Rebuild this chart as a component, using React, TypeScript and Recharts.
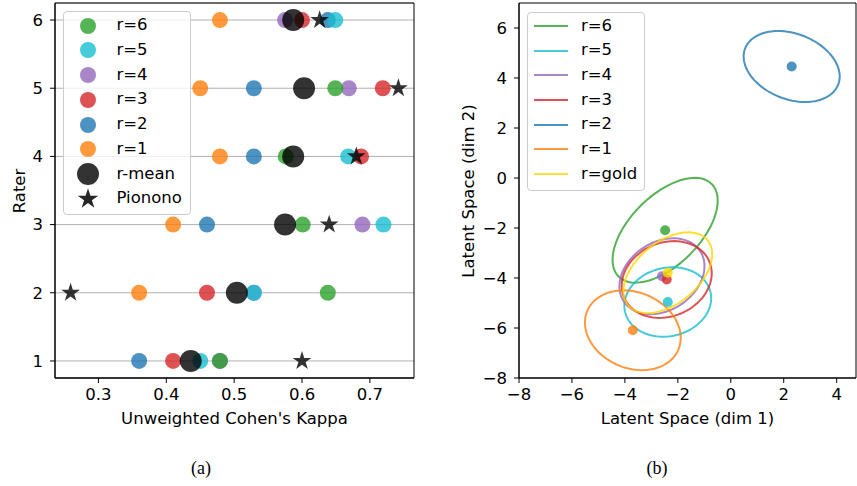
import React from 'react';
import { ScatterChart, Scatter, XAxis, YAxis, CartesianGrid, ReferenceArea, Symbols } from 'recharts';

// ---- panel (a): kappa of each rater row against every other rater ----
const raters = [1, 2, 3, 4, 5, 6];
const kappaR1 = [null, 0.36, 0.41, 0.479, 0.45, 0.479];
const kappaR2 = [0.36, null, 0.46, 0.529, 0.529, 0.638];
const kappaR3 = [0.41, 0.46, null, 0.687, 0.719, 0.6];
const kappaR4 = [0.479, 0.529, 0.689, null, 0.669, 0.575];
const kappaR5 = [0.45, 0.529, 0.72, 0.668, null, 0.649];
const kappaR6 = [0.479, 0.638, 0.601, 0.576, 0.649, null];
const kappaMean = [0.436, 0.504, 0.575, 0.587, 0.603, 0.587];
const kappaPionono = [0.6, 0.259, 0.64, 0.68, 0.742, 0.626];
const kappaTicks = [0.3, 0.4, 0.5, 0.6, 0.7];
const raterTicks = [1, 2, 3, 4, 5, 6];

// ---- panel (b): latent means and covariance ellipses ----
const latentLabels = ['r=6', 'r=5', 'r=4', 'r=3', 'r=2', 'r=1', 'r=gold'];
const latentMeanX = [-2.48, -2.38, -2.6, -2.42, 2.3, -3.7, -2.38];
const latentMeanY = [-2.09, -4.96, -3.93, -4.06, 4.46, -6.09, -3.79];
const ellipseMajor = [2.555, 1.663, 1.763, 1.767, 1.903, 1.89, 1.99];
const ellipseMinor = [1.345, 1.362, 1.334, 1.458, 1.299, 1.5, 1.21];
const ellipseAngle = [47.75, 16.7, 39, 28.8, -24.3, -28.4, 42.7];
const latentTicksX = [-8, -6, -4, -2, 0, 2, 4];
const latentTicksY = [-8, -6, -4, -2, 0, 2, 4, 6];

const C = {
  orange: '#ff7f0e',
  blue: '#1f77b4',
  red: '#d62728',
  purple: '#9467bd',
  cyan: '#17becf',
  green: '#2ca02c',
  gold: '#ffd700',
};

const FONT = 'DejaVu Sans';
const FS = 16.5;
const tickStyle = { fill: '#000', fontSize: FS, fontFamily: FONT };

// drawing order r=1..6 (legend lists them reversed)
const kappaSeries = [
  { name: 'r=1', color: C.orange, values: kappaR1 },
  { name: 'r=2', color: C.blue, values: kappaR2 },
  { name: 'r=3', color: C.red, values: kappaR3 },
  { name: 'r=4', color: C.purple, values: kappaR4 },
  { name: 'r=5', color: C.cyan, values: kappaR5 },
  { name: 'r=6', color: C.green, values: kappaR6 },
];
const latentColors = [C.green, C.cyan, C.purple, C.red, C.blue, C.orange, C.gold];

const toPoints = (vals: (number | null)[]) =>
  raters.map((r, i) => ({ x: vals[i], y: r })).filter((p) => p.x !== null);

// outline of an ellipse given centre, semi axes and rotation
function ellipseOutline(i: number) {
  const th = (ellipseAngle[i] * Math.PI) / 180;
  const a = ellipseMajor[i];
  const b = ellipseMinor[i];
  const steps = 90;
  return Array.from({ length: steps + 1 }, (_, k) => {
    const t = (2 * Math.PI * k) / steps;
    return {
      x: latentMeanX[i] + a * Math.cos(th) * Math.cos(t) - b * Math.sin(th) * Math.sin(t),
      y: latentMeanY[i] + a * Math.sin(th) * Math.cos(t) + b * Math.cos(th) * Math.sin(t),
    };
  });
}

const minus = (v: number) => String(v).replace('-', '\u2212');

const dot = (color: string, r: number) => (p: any) =>
  <circle cx={p.cx} cy={p.cy} r={r} fill={color} fillOpacity={0.8} />;
const star = (p: any) => <Symbols type="star" size={110} cx={p.cx} cy={p.cy} fill="#000" fillOpacity={0.8} />;
const noShape = () => <g />;

const abs = (left: number, top: number): React.CSSProperties => ({ position: 'absolute', left, top });

const centered = (x: number, y: number, rotate = 0, size = FS): React.CSSProperties => ({
  position: 'absolute',
  left: x,
  top: y,
  transform: `translate(-50%, -50%) rotate(${rotate}deg)`,
  whiteSpace: 'nowrap',
  fontFamily: FONT,
  fontSize: size,
  color: '#000',
});

const legendBox: React.CSSProperties = {
  position: 'absolute',
  border: '1px solid #cccccc',
  borderRadius: 4,
  background: 'rgba(255,255,255,0.8)',
  fontFamily: FONT,
  fontSize: FS,
  color: '#000',
  boxSizing: 'border-box',
  paddingTop: 1,
};

const LeftLegend = () => {
  const entries = [
    ...[...kappaSeries].reverse().map((s) => ({ name: s.name, kind: 'dot', color: s.color })),
    { name: 'r-mean', kind: 'mean', color: '#000' },
    { name: 'Pionono', kind: 'star', color: '#000' },
  ];
  return (
    <div style={{ ...legendBox, left: 63, top: 11, width: 128, height: 204 }}>
      {entries.map((e) => (
        <div key={e.name} style={{ position: 'relative', height: 24.75 }}>
          <svg width={26} height={26} style={{ position: 'absolute', left: 11, top: -0.5 }}>
            {e.kind === 'dot' && <circle cx={13} cy={13} r={8} fill={e.color} fillOpacity={0.8} />}
            {e.kind === 'mean' && <circle cx={13} cy={13} r={11} fill="#000" fillOpacity={0.8} />}
            {e.kind === 'star' && <Symbols type="star" size={130} cx={13} cy={13} fill="#000" fillOpacity={0.85} />}
          </svg>
          <span style={{ position: 'absolute', left: 52.5, top: 2, lineHeight: '20px' }}>{e.name}</span>
        </div>
      ))}
    </div>
  );
};

const RightLegend = () => (
  <div style={{ ...legendBox, left: 527, top: 11.5, width: 118, height: 179 }}>
    {latentLabels.map((name, i) => (
      <div key={name} style={{ position: 'relative', height: 24.7 }}>
        <div
          style={{
            position: 'absolute',
            left: 6,
            top: 11.5,
            width: 34,
            height: 2,
            background: latentColors[i],
            opacity: 0.8,
          }}
        />
        <span style={{ position: 'absolute', left: 53, top: 2, lineHeight: '20px' }}>{name}</span>
      </div>
    ))}
  </div>
);

export default function App() {
  return (
    <div style={{ position: 'absolute', left: 0, top: 0, width: 857, height: 486, background: '#fff', overflow: 'hidden' }}>
      {/* (a) */}
      <div style={abs(0, 0)}>
        <ScatterChart width={430} height={440} margin={{ top: 3, right: 16, bottom: 0, left: 0 }}>
          <CartesianGrid horizontal vertical={false} stroke="#b0b0b0" strokeWidth={1} />
          <XAxis
            type="number"
            dataKey="x"
            domain={[0.236, 0.765]}
            allowDataOverflow
            ticks={kappaTicks}
            tickFormatter={(v: number) => v.toFixed(1)}
            tick={tickStyle}
            tickSize={5}
            tickMargin={5}
            height={62}
            stroke="#000"
          />
          <YAxis
            type="number"
            dataKey="y"
            domain={[0.75, 6.25]}
            allowDataOverflow
            ticks={raterTicks}
            tick={tickStyle}
            tickSize={5}
            tickMargin={7}
            width={55}
            stroke="#000"
          />
          <ReferenceArea x1={0.236} x2={0.765} y1={0.75} y2={6.25} fill="none" stroke="#000" strokeWidth={1} ifOverflow="visible" />
          {kappaSeries.map((s) => (
            <Scatter key={s.name} name={s.name} data={toPoints(s.values)} shape={dot(s.color, 8)} isAnimationActive={false} />
          ))}
          <Scatter name="r-mean" data={toPoints(kappaMean)} shape={dot('#000', 11)} isAnimationActive={false} />
          <Scatter name="Pionono" data={toPoints(kappaPionono)} shape={star} isAnimationActive={false} />
        </ScatterChart>
      </div>
      <LeftLegend />
      <div style={centered(234.5, 418)}>Unweighted Cohen's Kappa</div>
      <div style={centered(18.5, 190.5, -90)}>Rater</div>

      {/* (b) */}
      <div style={abs(440, 0)}>
        <ScatterChart width={417} height={440} margin={{ top: 3, right: 1, bottom: 0, left: 0 }}>
          <XAxis
            type="number"
            dataKey="x"
            domain={[-8, 4.73]}
            allowDataOverflow
            ticks={latentTicksX}
            tickFormatter={minus}
            tick={tickStyle}
            tickSize={5}
            tickMargin={5}
            height={62}
            stroke="#000"
          />
          <YAxis
            type="number"
            dataKey="y"
            domain={[-8, 7]}
            allowDataOverflow
            ticks={latentTicksY}
            tickFormatter={minus}
            tick={tickStyle}
            tickSize={5}
            tickMargin={7}
            width={79}
            stroke="#000"
          />
          <ReferenceArea x1={-8} x2={4.73} y1={-8} y2={7} fill="none" stroke="#000" strokeWidth={1} ifOverflow="visible" />
          {latentLabels.map((name, i) => (
            <Scatter
              key={name + '-ellipse'}
              data={ellipseOutline(i)}
              line={{ stroke: latentColors[i], strokeWidth: 2, strokeOpacity: 0.8 }}
              shape={noShape}
              isAnimationActive={false}
            />
          ))}
          {latentLabels.map((name, i) => (
            <Scatter
              key={name + '-mean'}
              name={name}
              data={[{ x: latentMeanX[i], y: latentMeanY[i] }]}
              shape={dot(latentColors[i], 5)}
              isAnimationActive={false}
            />
          ))}
        </ScatterChart>
      </div>
      <RightLegend />
      <div style={centered(687.5, 418)}>Latent Space (dim 1)</div>
      <div style={centered(468, 190.5, -90)}>Latent Space (dim 2)</div>

      <div style={centered(201, 468, 0, 18)}>
        <span style={{ fontFamily: 'Liberation Serif' }}>(a)</span>
      </div>
      <div style={centered(657, 468, 0, 18)}>
        <span style={{ fontFamily: 'Liberation Serif' }}>(b)</span>
      </div>
    </div>
  );
}
